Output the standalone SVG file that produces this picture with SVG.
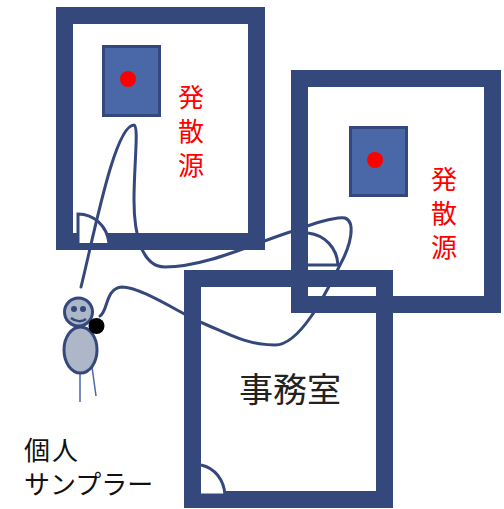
<svg xmlns="http://www.w3.org/2000/svg" width="504" height="509" viewBox="0 0 504 509">
<style>
.wall{fill:none;stroke:#35487c;stroke-width:17}
.door{fill:#fff;stroke:#35487c;stroke-width:3}
.src{fill:#4a67a8;stroke:#35487c;stroke-width:3}
.dot{fill:#ff0000}
.wire{fill:none;stroke:#35487c;stroke-width:3;stroke-linecap:round}
.t{font-family:"Noto Sans CJK JP","Liberation Sans",sans-serif}
.r{fill:#ff0000;font-size:26px;text-anchor:middle}
.k{fill:#111;font-size:26px}
.p{fill:#adb7c8;stroke:#35487c;stroke-width:3}
.leg{stroke:#4a67a8;stroke-width:1.5;fill:none}
</style>
<g id="room-1">
<rect class="wall" x="64.500" y="15.500" width="192" height="226"/>
<path class="door" d="M78 243V214C94 214 107 226 109 243"/>
<rect class="src" x="103.500" y="46.500" width="56" height="69"/>
<circle class="dot" cx="128" cy="79" r="8"/>
<text class="t r" x="191" y="107">発</text>
<text class="t r" x="191" y="141">散</text>
<text class="t r" x="191" y="175">源</text>
</g>
<g id="room-2">
<rect class="wall" x="299.500" y="78.500" width="193" height="226"/>
<path class="door" d="M308 233C325 235 337 248 338 265H308"/>
<rect class="src" x="350.500" y="127.500" width="56" height="68"/>
<circle class="dot" cx="375" cy="160" r="8"/>
<text class="t r" x="444" y="189">発</text>
<text class="t r" x="444" y="223">散</text>
<text class="t r" x="444" y="257">源</text>
</g>
<g id="room-3">
<rect class="wall" x="192.500" y="278.500" width="192" height="221"/>
<path class="door" d="M201 465C215 468 224 480 225 495H201"/>
<text class="t" x="290" y="402" font-size="34" fill="#222" text-anchor="middle">事務室</text>
</g>
<g id="connectors">
<path class="wire" d="M81 287C95 230 115 125 134 125C139 125 134 165 134 200C134 235 142 267 165 267C205 267 250 245 290 232C310 225 335 216 345 218C356 222 351 245 340 265C325 295 300 345 275 345C245 345 225 332 200 322C175 310 140 287 122 287C105 288 108 312 100 316"/>
</g>
<g id="sampler">
<path class="leg" d="M80 373V402M92 367L96 396"/>
<ellipse class="p" cx="80.500" cy="350" rx="16.500" ry="23"/>
<circle class="p" cx="78.500" cy="312" r="14"/>
<circle cx="74" cy="309" r="3" fill="#35487c"/>
<circle cx="83" cy="309" r="3" fill="#35487c"/>
<path d="M71 318C76 322 82 322 86 319" fill="none" stroke="#35487c" stroke-width="2.500"/>
<circle cx="96.500" cy="326" r="8"/>
</g>
<g id="label">
<text class="t k"><tspan x="24" y="460" letter-spacing="2">個人</tspan><tspan x="24" y="494">サンプラー</tspan></text>
</g>
</svg>
